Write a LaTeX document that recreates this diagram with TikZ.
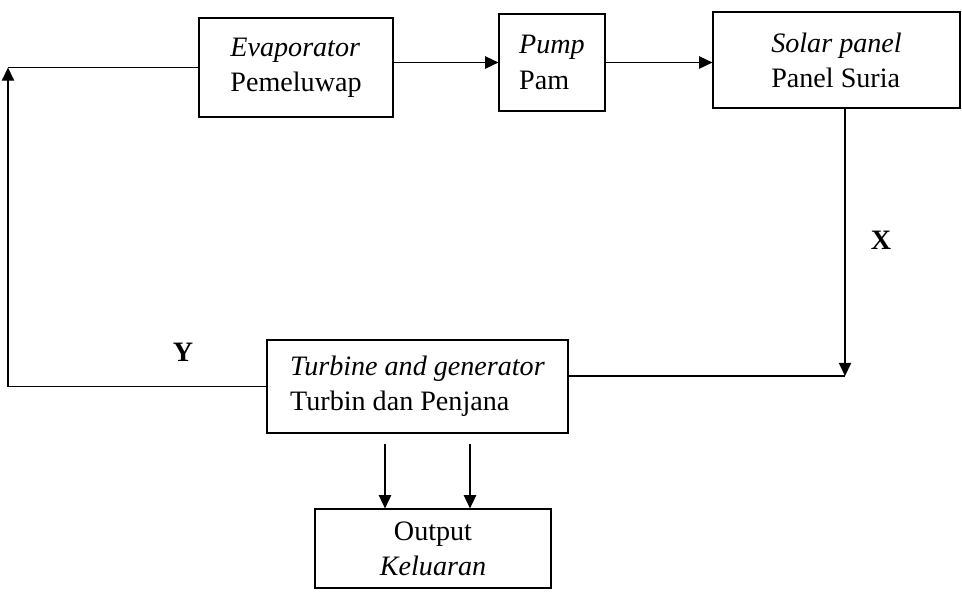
\documentclass[tikz,border=0pt]{standalone}
\usepackage{fontspec}
\setmainfont{Liberation Serif}
\usetikzlibrary{arrows.meta,positioning,calc}

\begin{document}
\begin{tikzpicture}[
  x=0.02cm, y=-0.02cm,
  font=\fontsize{16}{20}\selectfont,
  >={Triangle[length=7.5pt,width=7pt]},
  blockbox/.style={
    draw, line width=0.7pt, align=left,
    inner sep=4pt
  },
  arr/.style={->, line width=0.7pt},
  conn/.style={line width=0.7pt}
]
\useasboundingbox (0,0) rectangle (962,592);

% Evaporator
\node[blockbox, minimum width=3.88cm, minimum height=1.98cm] (evap) at (296,67.5) {
  \textit{Evaporator}\\
  Pemeluwap
};

% Pump
\node[blockbox, minimum width=2.12cm, minimum height=1.94cm] (pump) at (552,62.5) {
  \textit{Pump}\\
  Pam
};

% Solar panel
\node[blockbox, minimum width=4.94cm, minimum height=1.92cm] (solar) at (836.5,60) {
  \textit{Solar panel}\\
  Panel Suria
};

% Turbine and generator
\node[blockbox, minimum width=6.02cm, minimum height=1.86cm] (turbine) at (417.5,386.5) {
  \textit{Turbine and generator}\\
  Turbin dan Penjana
};

% Output
\node[blockbox, align=center, minimum width=4.72cm, minimum height=1.58cm] (output) at (433,548.5) {
  Output\\
  \textit{Keluaran}
};

% Corners
\coordinate (ycorner) at (8,67.5);
\coordinate (xcorner) at (845,376);

% Arrows
\draw[arr] (evap.east |- pump.west) -- (pump.west);
\draw[arr] (pump.east) -- (pump.east -| solar.west);
\draw[arr] (solar.south -| xcorner) -- (xcorner);
\draw[conn] (xcorner) -- (xcorner -| turbine.east);
\draw[arr] (turbine.west) -| (ycorner);
\draw[conn] (ycorner) -- (evap.west);
\draw[arr, shorten <=0.2cm] ([xshift=-0.65cm]turbine.south) -- ([xshift=-0.65cm]turbine.south |- output.north);
\draw[arr, shorten <=0.2cm] ([xshift=1.05cm]turbine.south) -- ([xshift=1.05cm]turbine.south |- output.north);

% Labels
\node[font=\fontsize{16}{20}\selectfont\bfseries] (xlabel) at (881,240) {X};
\node[font=\fontsize{16}{20}\selectfont\bfseries] (ylabel) at (183,352) {Y};

\end{tikzpicture}
\end{document}
